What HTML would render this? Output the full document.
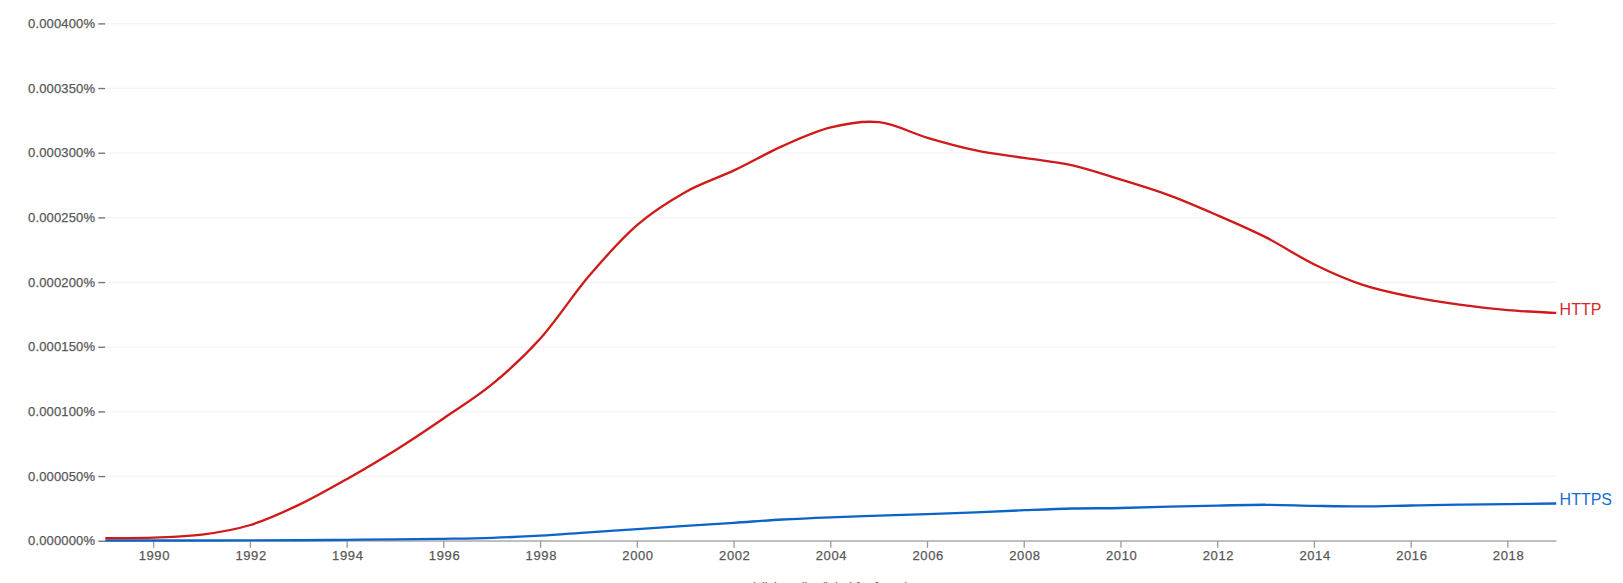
<!DOCTYPE html>
<html><head><meta charset="utf-8"><style>
html,body{margin:0;padding:0;background:#fff;width:1623px;height:583px;overflow:hidden}
svg{display:block;font-family:"Liberation Sans",sans-serif}
.ax text{font-size:13px;fill:#585858;stroke:#585858;stroke-width:0.25px}
</style></head><body>
<svg width="1623" height="583" viewBox="0 0 1623 583">
<g><line x1="107" x2="1555.5" y1="476.38" y2="476.38" stroke="#f4f4f4" stroke-width="1.3"/>
<line x1="107" x2="1555.5" y1="411.71" y2="411.71" stroke="#f4f4f4" stroke-width="1.3"/>
<line x1="107" x2="1555.5" y1="347.04" y2="347.04" stroke="#f4f4f4" stroke-width="1.3"/>
<line x1="107" x2="1555.5" y1="282.37" y2="282.37" stroke="#f4f4f4" stroke-width="1.3"/>
<line x1="107" x2="1555.5" y1="217.70" y2="217.70" stroke="#f4f4f4" stroke-width="1.3"/>
<line x1="107" x2="1555.5" y1="153.03" y2="153.03" stroke="#f4f4f4" stroke-width="1.3"/>
<line x1="107" x2="1555.5" y1="88.36" y2="88.36" stroke="#f4f4f4" stroke-width="1.3"/>
<line x1="107" x2="1555.5" y1="23.69" y2="23.69" stroke="#f4f4f4" stroke-width="1.3"/>
</g>
<line x1="105" x2="1556.5" y1="541.1" y2="541.1" stroke="#aaa" stroke-width="1.5"/>
<g class="ax"><line x1="98.3" x2="105.2" y1="541.25" y2="541.25" stroke="#777" stroke-width="1.4"/>
<text x="95" y="545.40" text-anchor="end" textLength="67.0" lengthAdjust="spacing">0.000000%</text>
<line x1="98.3" x2="105.2" y1="476.58" y2="476.58" stroke="#777" stroke-width="1.4"/>
<text x="95" y="480.73" text-anchor="end" textLength="67.0" lengthAdjust="spacing">0.000050%</text>
<line x1="98.3" x2="105.2" y1="411.91" y2="411.91" stroke="#777" stroke-width="1.4"/>
<text x="95" y="416.06" text-anchor="end" textLength="67.0" lengthAdjust="spacing">0.000100%</text>
<line x1="98.3" x2="105.2" y1="347.24" y2="347.24" stroke="#777" stroke-width="1.4"/>
<text x="95" y="351.39" text-anchor="end" textLength="67.0" lengthAdjust="spacing">0.000150%</text>
<line x1="98.3" x2="105.2" y1="282.57" y2="282.57" stroke="#777" stroke-width="1.4"/>
<text x="95" y="286.72" text-anchor="end" textLength="67.0" lengthAdjust="spacing">0.000200%</text>
<line x1="98.3" x2="105.2" y1="217.90" y2="217.90" stroke="#777" stroke-width="1.4"/>
<text x="95" y="222.05" text-anchor="end" textLength="67.0" lengthAdjust="spacing">0.000250%</text>
<line x1="98.3" x2="105.2" y1="153.23" y2="153.23" stroke="#777" stroke-width="1.4"/>
<text x="95" y="157.38" text-anchor="end" textLength="67.0" lengthAdjust="spacing">0.000300%</text>
<line x1="98.3" x2="105.2" y1="88.56" y2="88.56" stroke="#777" stroke-width="1.4"/>
<text x="95" y="92.71" text-anchor="end" textLength="67.0" lengthAdjust="spacing">0.000350%</text>
<line x1="98.3" x2="105.2" y1="23.89" y2="23.89" stroke="#777" stroke-width="1.4"/>
<text x="95" y="28.04" text-anchor="end" textLength="67.0" lengthAdjust="spacing">0.000400%</text>
<line x1="153.66" x2="153.66" y1="541" y2="547.8" stroke="#9a9a9a" stroke-width="1.3"/>
<text x="154.06" y="560.4" text-anchor="middle" textLength="30.8" lengthAdjust="spacing">1990</text>
<line x1="250.39" x2="250.39" y1="541" y2="547.8" stroke="#9a9a9a" stroke-width="1.3"/>
<text x="250.79" y="560.4" text-anchor="middle" textLength="30.8" lengthAdjust="spacing">1992</text>
<line x1="347.12" x2="347.12" y1="541" y2="547.8" stroke="#9a9a9a" stroke-width="1.3"/>
<text x="347.52" y="560.4" text-anchor="middle" textLength="30.8" lengthAdjust="spacing">1994</text>
<line x1="443.85" x2="443.85" y1="541" y2="547.8" stroke="#9a9a9a" stroke-width="1.3"/>
<text x="444.25" y="560.4" text-anchor="middle" textLength="30.8" lengthAdjust="spacing">1996</text>
<line x1="540.58" x2="540.58" y1="541" y2="547.8" stroke="#9a9a9a" stroke-width="1.3"/>
<text x="540.98" y="560.4" text-anchor="middle" textLength="30.8" lengthAdjust="spacing">1998</text>
<line x1="637.30" x2="637.30" y1="541" y2="547.8" stroke="#9a9a9a" stroke-width="1.3"/>
<text x="637.70" y="560.4" text-anchor="middle" textLength="30.8" lengthAdjust="spacing">2000</text>
<line x1="734.03" x2="734.03" y1="541" y2="547.8" stroke="#9a9a9a" stroke-width="1.3"/>
<text x="734.43" y="560.4" text-anchor="middle" textLength="30.8" lengthAdjust="spacing">2002</text>
<line x1="830.76" x2="830.76" y1="541" y2="547.8" stroke="#9a9a9a" stroke-width="1.3"/>
<text x="831.16" y="560.4" text-anchor="middle" textLength="30.8" lengthAdjust="spacing">2004</text>
<line x1="927.49" x2="927.49" y1="541" y2="547.8" stroke="#9a9a9a" stroke-width="1.3"/>
<text x="927.89" y="560.4" text-anchor="middle" textLength="30.8" lengthAdjust="spacing">2006</text>
<line x1="1024.22" x2="1024.22" y1="541" y2="547.8" stroke="#9a9a9a" stroke-width="1.3"/>
<text x="1024.62" y="560.4" text-anchor="middle" textLength="30.8" lengthAdjust="spacing">2008</text>
<line x1="1120.94" x2="1120.94" y1="541" y2="547.8" stroke="#9a9a9a" stroke-width="1.3"/>
<text x="1121.34" y="560.4" text-anchor="middle" textLength="30.8" lengthAdjust="spacing">2010</text>
<line x1="1217.67" x2="1217.67" y1="541" y2="547.8" stroke="#9a9a9a" stroke-width="1.3"/>
<text x="1218.07" y="560.4" text-anchor="middle" textLength="30.8" lengthAdjust="spacing">2012</text>
<line x1="1314.40" x2="1314.40" y1="541" y2="547.8" stroke="#9a9a9a" stroke-width="1.3"/>
<text x="1314.80" y="560.4" text-anchor="middle" textLength="30.8" lengthAdjust="spacing">2014</text>
<line x1="1411.13" x2="1411.13" y1="541" y2="547.8" stroke="#9a9a9a" stroke-width="1.3"/>
<text x="1411.53" y="560.4" text-anchor="middle" textLength="30.8" lengthAdjust="spacing">2016</text>
<line x1="1507.86" x2="1507.86" y1="541" y2="547.8" stroke="#9a9a9a" stroke-width="1.3"/>
<text x="1508.26" y="560.4" text-anchor="middle" textLength="30.8" lengthAdjust="spacing">2018</text>

<text x="830.2" y="590.9" text-anchor="middle" textLength="157.8" lengthAdjust="spacing" style="stroke-width:0">(click on line/label for focus)</text>
</g>
<path d="M105.30,540.50 C113.36,540.50 137.54,540.50 153.66,540.50 C169.79,540.50 185.91,540.52 202.03,540.50 C218.15,540.48 234.27,540.45 250.39,540.40 C266.51,540.35 282.63,540.30 298.76,540.20 C314.88,540.10 331.00,539.93 347.12,539.80 C363.24,539.67 379.36,539.57 395.48,539.40 C411.61,539.23 427.73,539.07 443.85,538.80 C459.97,538.53 476.09,538.32 492.21,537.80 C508.33,537.28 524.45,536.62 540.58,535.70 C556.70,534.78 572.82,533.38 588.94,532.30 C605.06,531.22 621.18,530.27 637.30,529.20 C653.43,528.13 669.55,526.97 685.67,525.90 C701.79,524.83 717.91,523.87 734.03,522.80 C750.15,521.73 766.27,520.42 782.40,519.50 C798.52,518.58 814.64,517.93 830.76,517.30 C846.88,516.67 863.00,516.23 879.12,515.70 C895.25,515.17 911.37,514.67 927.49,514.10 C943.61,513.53 959.73,512.95 975.85,512.30 C991.97,511.65 1008.09,510.83 1024.22,510.20 C1040.34,509.57 1056.46,508.87 1072.58,508.50 C1088.70,508.13 1104.82,508.32 1120.94,508.00 C1137.07,507.68 1153.19,507.00 1169.31,506.60 C1185.43,506.20 1201.55,505.90 1217.67,505.60 C1233.79,505.30 1249.91,504.77 1266.04,504.80 C1282.16,504.83 1298.28,505.53 1314.40,505.80 C1330.52,506.07 1346.64,506.45 1362.76,506.40 C1378.89,506.35 1395.01,505.78 1411.13,505.50 C1427.25,505.22 1443.37,504.93 1459.49,504.70 C1475.61,504.47 1491.73,504.30 1507.86,504.10 C1523.98,503.90 1548.16,503.60 1556.22,503.50" fill="none" stroke="#0c64c8" stroke-width="2.35"/>
<path d="M105.30,538.10 C113.36,538.02 137.54,538.18 153.66,537.60 C169.79,537.02 185.91,536.70 202.03,534.60 C218.15,532.50 234.27,529.95 250.39,525.00 C266.51,520.05 282.63,512.58 298.76,504.90 C314.88,497.22 331.00,488.02 347.12,478.90 C363.24,469.78 379.36,460.32 395.48,450.20 C411.61,440.08 427.73,429.20 443.85,418.20 C459.97,407.20 476.09,397.52 492.21,384.20 C508.33,370.88 524.45,356.32 540.58,338.30 C556.70,320.28 572.82,295.00 588.94,276.10 C605.06,257.20 621.18,238.93 637.30,224.90 C653.43,210.87 669.55,200.98 685.67,191.90 C701.79,182.82 717.91,178.03 734.03,170.40 C750.15,162.77 766.27,153.27 782.40,146.10 C798.52,138.93 814.64,131.38 830.76,127.40 C846.88,123.42 863.00,120.47 879.12,122.20 C895.25,123.93 911.37,133.10 927.49,137.80 C943.61,142.50 959.73,147.05 975.85,150.40 C991.97,153.75 1008.09,155.40 1024.22,157.90 C1040.34,160.40 1056.46,161.77 1072.58,165.40 C1088.70,169.03 1104.82,174.70 1120.94,179.70 C1137.07,184.70 1153.19,189.45 1169.31,195.40 C1185.43,201.35 1201.55,208.40 1217.67,215.40 C1233.79,222.40 1249.91,229.22 1266.04,237.40 C1282.16,245.58 1298.28,256.58 1314.40,264.50 C1330.52,272.42 1346.64,279.53 1362.76,284.90 C1378.89,290.27 1395.01,293.40 1411.13,296.70 C1427.25,300.00 1443.37,302.45 1459.49,304.70 C1475.61,306.95 1491.73,308.83 1507.86,310.20 C1523.98,311.57 1548.16,312.45 1556.22,312.90" fill="none" stroke="#d01a1a" stroke-width="2.35"/>
<text x="1559.6" y="314.8" font-size="16" fill="#d62a2a">HTTP</text>
<text x="1559.6" y="504.8" font-size="16" fill="#176ed2">HTTPS</text>
</svg>
</body></html>
